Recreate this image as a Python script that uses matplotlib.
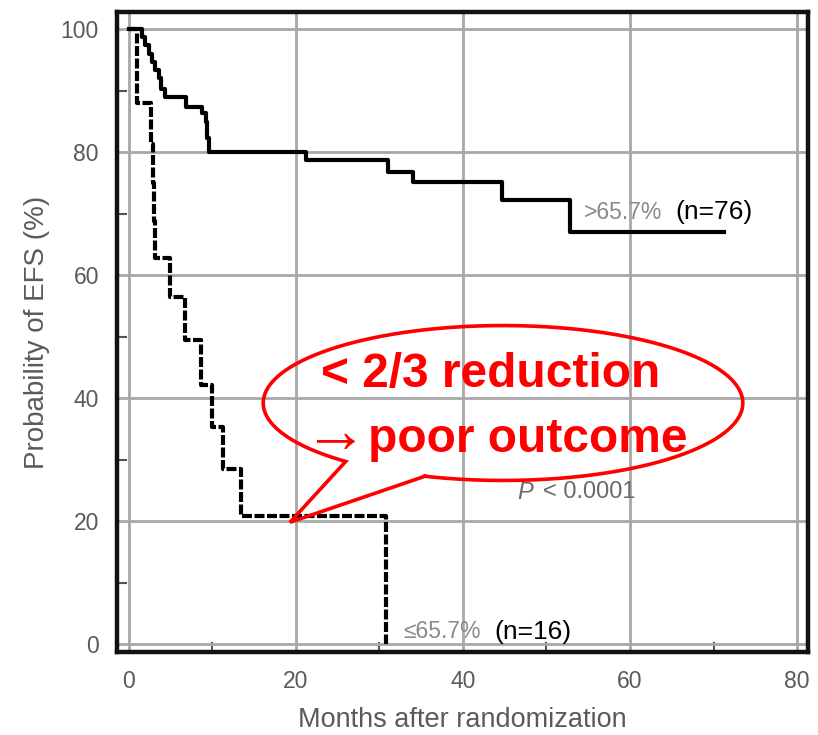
import numpy as np
import matplotlib
matplotlib.use("Agg")
import matplotlib.pyplot as plt
from matplotlib.ticker import MultipleLocator

plt.rcParams['font.family'] = ['Liberation Sans', 'DejaVu Sans']

# Kaplan-Meier steps (months, % EFS)
months_high = [0, 1.6, 2.0, 2.4, 2.8, 3.2, 3.6, 3.9, 4.3, 6.9, 8.8, 9.2, 9.4, 9.6,
               21.2, 31.0, 34.0, 44.7, 52.8, 71.3]
efs_high = [100, 98.7, 97.4, 96.0, 94.7, 93.4, 92.1, 90.3, 88.9, 87.3, 86.3, 84.9, 82.3, 80.0,
            78.7, 76.7, 75.1, 72.2, 67.0, 67.0]

months_low = [0, 1.0, 2.7, 2.9, 3.0, 3.2, 4.9, 6.7, 8.7, 10.0, 11.3, 13.4, 30.8, 30.8]
efs_low = [100, 88.0, 81.3, 75.0, 68.8, 62.8, 56.4, 49.4, 42.1, 35.3, 28.4, 20.8, 20.8, 0]

x_ticks = [0, 20, 40, 60, 80]
y_ticks = [0, 20, 40, 60, 80, 100]

label_gray = '#5a5a5a'

fig = plt.figure(figsize=(8.18, 7.35), dpi=100)
ax = fig.add_axes([117 / 818, 1 - 652 / 735, (808 - 117) / 818, (652 - 12) / 735])

ax.set_xlim(-1.4, 81.3)
ax.set_ylim(-1.3, 102.8)
ax.set_xticks(x_ticks)
ax.set_yticks(y_ticks)
ax.xaxis.set_minor_locator(MultipleLocator(10))
ax.yaxis.set_minor_locator(MultipleLocator(10))
ax.grid(True, which='major', color='#a8a8a8', lw=2.0)
ax.set_axisbelow(True)
ax.tick_params(which='major', length=0, labelsize=16.5, labelcolor=label_gray, pad=13)
ax.tick_params(which='minor', direction='in', length=7, width=1.5, color='#555555')
for s in ax.spines.values():
    s.set_linewidth(3.2)
    s.set_color('#111111')

ax.step(months_high, efs_high, where='post', color='black', lw=3.0, zorder=3)
ax.step(months_low, efs_low, where='post', color='black', lw=3.0,
        linestyle=(0, (2.4, 0.6)), zorder=3)

ax.set_xlabel('Months after randomization', fontsize=19.5, color=label_gray, labelpad=10)
ax.set_ylabel('Probability of EFS (%)', fontsize=20, color=label_gray, labelpad=8)

# curve labels
ax.text(54.5, 70.2, '>65.7%', fontsize=16.5, color='#8a8a8a', va='center')
ax.text(65.4, 70.2, '(n=76)', fontsize=19, color='black', va='center')
ax.text(32.9, 2.0, '≤65.7%', fontsize=16.5, color='#8a8a8a', va='center')
ax.text(43.8, 2.0, '(n=16)', fontsize=19, color='black', va='center')
ax.text(46.5, 24.7, 'P', fontsize=17, style='italic', color='#6a6a6a', va='center')
ax.text(49.6, 24.7, '< 0.0001', fontsize=17, color='#6a6a6a', va='center')

# red speech bubble
cx, cy, w, h = 44.8, 39.2, 57.4, 25.2
tip_x, tip_y = 19.3, 19.8
theta = np.radians(np.linspace(251, 589, 500))
bx = list(cx + w / 2 * np.cos(theta)) + [tip_x, cx + w / 2 * np.cos(theta[0])]
by = list(cy + h / 2 * np.sin(theta)) + [tip_y, cy + h / 2 * np.sin(theta[0])]
ax.plot(bx, by, color='#ff0000', lw=2.6, zorder=4, solid_joinstyle='miter')

ax.text(43.3, 43.9, '< 2/3 reduction', fontsize=34.5, fontweight='bold', color='#ff0000',
        ha='center', va='center', zorder=5)
ax.text(21.0, 34.0, '→', fontsize=46, color='#ff0000', ha='left', va='center', zorder=5)
ax.text(28.6, 33.2, 'poor outcome', fontsize=34.5, fontweight='bold', color='#ff0000',
        ha='left', va='center', zorder=5)

fig.savefig('out.png', dpi=100)
